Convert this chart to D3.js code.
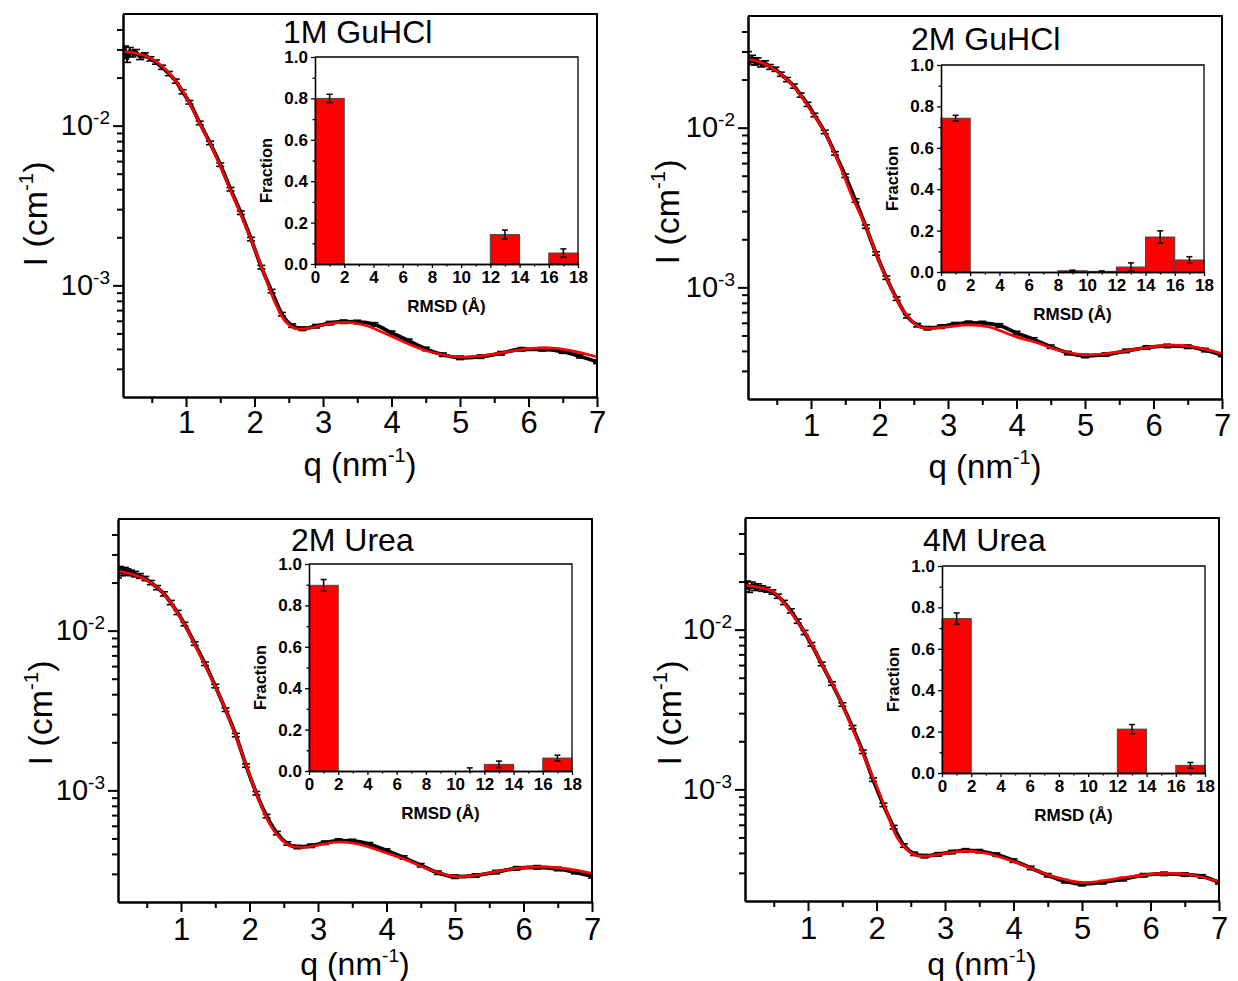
<!DOCTYPE html>
<html><head><meta charset="utf-8">
<script src="https://cdn.jsdelivr.net/npm/d3@7"></script>
<style>
html,body{margin:0;padding:0;background:#fff;}
svg{display:block;font-family:"Liberation Sans",Arial,Helvetica,sans-serif;}
</style></head><body>
<svg id="fig" width="1238" height="981"></svg>
<script>
// ---- scattering profiles: model fits (red) ----
const fitQ = [0.08,0.25,0.5,0.75,1.0,1.2,1.4,1.6,1.8,2.0,2.15,2.3,2.45,2.6,2.8,3.0,3.3,3.6,4.0,4.3,4.6,5.0,5.3,5.6,6.0,6.3,6.6,7.0];
const fit1MGuHCl = [0.0293,0.0285,0.0262,0.0214,0.0152,0.0103,0.0070,0.0044,0.00278,0.00170,0.00115,0.00078,0.000595,0.000535,0.00054,0.000565,0.000586,0.000565,0.00048,0.00042,0.00038,0.000355,0.000362,0.000378,0.000402,0.000406,0.000392,0.000357];
const fit2MGuHCl = [0.0268,0.0258,0.0226,0.0180,0.0128,0.0093,0.0061,0.0037,0.0024,0.00143,0.00103,0.00077,0.00063,0.00056,0.000555,0.000566,0.000582,0.000565,0.00049,0.00045,0.000405,0.000378,0.000385,0.0004,0.000425,0.000435,0.000422,0.000385];
const fit2MUrea = [0.0236,0.0228,0.0207,0.0170,0.0119,0.0082,0.0055,0.0036,0.00218,0.00125,0.00084,0.00061,0.0005,0.00045,0.00044,0.000455,0.000475,0.00046,0.000405,0.000365,0.000322,0.000289,0.000294,0.00031,0.000328,0.000332,0.000325,0.000302];
const fit4MUrea = [0.0190,0.0185,0.0172,0.0128,0.0089,0.0061,0.0042,0.0027,0.00168,0.00105,0.00072,0.0005,0.000418,0.000383,0.000385,0.000398,0.00041,0.000398,0.000353,0.000315,0.000283,0.000261,0.000267,0.00028,0.000295,0.000298,0.000292,0.000264];

// ---- measured intensities (black) with relative errors ----
const dataQ = [0.08,0.11,0.14,0.18,0.22,0.27,0.33,0.4,0.48,0.56,0.65,0.75,0.85,0.95,1.05,1.2,1.35,1.5,1.65,1.8,1.95,2.1,2.25,2.4,2.55,2.7,2.9,3.1,3.3,3.5,3.75,4.0,4.25,4.5,4.75,5.0,5.3,5.6,5.9,6.2,6.5,6.75,7.0];
const relErr = [0.05,0.05,0.05,0.045,0.045,0.04,0.04,0.035,0.03,0.03,0.03,0.03,0.03,0.03,0.025,0.025,0.025,0.025,0.025,0.025,0.025,0.025,0.025,0.025,0.025,0.025,0.025,0.025,0.025,0.025,0.025,0.025,0.025,0.025,0.025,0.025,0.025,0.025,0.025,0.025,0.025,0.025,0.025];
const data1MGuHCl = [0.0280,0.0300,0.0262,0.0295,0.0282,0.0288,0.0270,0.0276,0.0262,0.0250,0.0232,0.0212,0.0190,0.0163,0.0140,0.0104,0.0078,0.0057,0.0040,0.00285,0.00195,0.00130,0.00092,0.00066,0.00056,0.000535,0.000555,0.00058,0.000592,0.00059,0.00057,0.000505,0.00045,0.0004,0.000368,0.000352,0.000358,0.000376,0.000398,0.000398,0.000385,0.00036,0.000332];
const data2MGuHCl = [0.0285,0.0262,0.0270,0.0258,0.0262,0.0250,0.0252,0.0240,0.0232,0.0216,0.0200,0.0182,0.0160,0.0140,0.0120,0.0094,0.0069,0.0050,0.0035,0.0024,0.00163,0.00115,0.00085,0.00066,0.00058,0.000555,0.000568,0.000588,0.0006,0.000598,0.000578,0.000518,0.000472,0.000425,0.000388,0.000372,0.00038,0.0004,0.00042,0.00043,0.000425,0.000405,0.000378];
const data2MUrea = [0.0225,0.0240,0.0232,0.0238,0.0233,0.0230,0.0226,0.0220,0.0212,0.0200,0.0186,0.0170,0.0150,0.0130,0.0110,0.0083,0.0062,0.0045,0.0032,0.00222,0.00143,0.00096,0.00069,0.00054,0.000465,0.000442,0.00045,0.00047,0.000485,0.000482,0.00046,0.00042,0.00038,0.00034,0.000305,0.000288,0.000293,0.000308,0.000325,0.00033,0.000322,0.000308,0.00029];
const data4MUrea = [0.0182,0.0192,0.0180,0.0190,0.0184,0.0186,0.0181,0.0178,0.0172,0.0162,0.0148,0.0131,0.0113,0.0096,0.0081,0.0061,0.0046,0.0034,0.00245,0.00172,0.00115,0.00080,0.00058,0.000445,0.000395,0.000382,0.000392,0.000405,0.000415,0.00041,0.00039,0.000358,0.000322,0.00029,0.000266,0.000255,0.000262,0.000274,0.00029,0.000296,0.000293,0.000285,0.000262];

// ---- RMSD population histograms (insets) ----
const rmsdBins = [0,2,4,6,8,10,12,14,16];
const frac1MGuHCl = [0.80,0,0,0,0,0,0.142,0,0.053];
const err1MGuHCl  = [0.02,0,0,0,0,0,0.022,0,0.02];
const frac2MGuHCl = [0.743,0,0,0,0.006,0.003,0.024,0.169,0.058];
const err2MGuHCl  = [0.014,0,0,0,0.003,0.002,0.02,0.03,0.016];
const frac2MUrea  = [0.897,0,0,0,0,0,0.032,0,0.0625];
const err2MUrea   = [0.028,0,0,0,0,0.015,0.016,0,0.014];
const frac4MUrea  = [0.746,0,0,0,0,0,0.212,0,0.037];
const err4MUrea   = [0.027,0,0,0,0,0,0.022,0,0.014];

const panelTitles = ["1M GuHCl","2M GuHCl","2M Urea","4M Urea"];
const qTicks = [1,2,3,4,5,6,7];
const qMinorTicks = [0.5,1.5,2.5,3.5,4.5,5.5,6.5];
const iTicks = [1e-3,1e-2];
const iMinorTicks = [3e-4,4e-4,5e-4,6e-4,7e-4,8e-4,9e-4,2e-3,3e-3,4e-3,5e-3,6e-3,7e-3,8e-3,9e-3,2e-2,3e-2,4e-2];
const fracTicks = [0,0.2,0.4,0.6,0.8,1.0];
const fracMinorTicks = [0.1,0.3,0.5,0.7,0.9];
const rmsdTicks = [0,2,4,6,8,10,12,14,16,18];
const rmsdMinorTicks = [1,3,5,7,9,11,13,15,17];

const panels = [
  {title:panelTitles[0], fit:fit1MGuHCl, data:data1MGuHCl, frac:frac1MGuHCl, err:err1MGuHCl},
  {title:panelTitles[1], fit:fit2MGuHCl, data:data2MGuHCl, frac:frac2MGuHCl, err:err2MGuHCl},
  {title:panelTitles[2], fit:fit2MUrea,  data:data2MUrea,  frac:frac2MUrea,  err:err2MUrea},
  {title:panelTitles[3], fit:fit4MUrea,  data:data4MUrea,  frac:frac4MUrea,  err:err4MUrea}
];

// page layout of each panel: frame, inset and title anchors
const layout = [
  {fx:123, fy:14,  ix:315, iy:57,  tx:283, ty:43,  xPad:4, xtY:476, xtSize:33, ytX:47,  ytY:214},
  {fx:748, fy:16,  ix:941, iy:65,  tx:911, ty:50,  xPad:5, xtY:478, xtSize:33, ytX:679, ytY:212},
  {fx:118, fy:519, ix:309, iy:564, tx:291, ty:551, xPad:6, xtY:975, xtSize:32, ytX:52,  ytY:713},
  {fx:745, fy:518, ix:942, iy:566, tx:923, ty:551, xPad:6, xtY:975, xtSize:32, ytX:681, ytY:713}
];
const FW = 474, FH = 383, IW = 263, IH = 207;

const svg = d3.select("#fig");

function styleAxis(g, fontSize, weight, strokeW) {
  g.attr("font-family", null).attr("font-size", null);
  g.selectAll(".domain").attr("stroke", "#000").attr("stroke-width", strokeW);
  g.selectAll(".tick line").attr("stroke", "#000").attr("stroke-width", strokeW);
  g.selectAll(".tick text").attr("fill", "#000").style("font-size", fontSize + "px").style("font-weight", weight);
}

function axisTitle(parent, x, y, rotate, main, sup, tail, size) {
  const t = parent.append("text")
    .attr("transform", `translate(${x},${y})` + (rotate ? " rotate(-90)" : ""))
    .attr("text-anchor", "middle").style("font-size", size + "px").attr("fill", "#000");
  t.append("tspan").text(main);
  t.append("tspan").attr("dy", -0.42 * size).style("font-size", (0.6 * size) + "px").text(sup);
  t.append("tspan").attr("dy", 0.42 * size).text(tail);
}

panels.forEach((p, k) => {
  const L = layout[k];
  const g = svg.append("g").attr("transform", `translate(${L.fx},${L.fy})`);
  const x = d3.scaleLinear().domain([0.08, 7]).range([0, FW]);
  const y = d3.scaleLog().domain([2e-4, 0.05]).range([FH, 0]);

  const clipId = "clip" + k;
  g.append("clipPath").attr("id", clipId).append("rect").attr("width", FW).attr("height", FH);
  const plot = g.append("g").attr("clip-path", `url(#${clipId})`);

  // measured curve
  const pts = dataQ.map((q, i) => ({q, I: p.data[i], e: relErr[i]}));
  plot.append("path").datum(pts)
    .attr("fill", "none").attr("stroke", "#000").attr("stroke-width", 3.8).attr("stroke-linejoin", "round")
    .attr("d", d3.line().x(d => x(d.q)).y(d => y(d.I)).curve(d3.curveMonotoneX));
  const eb = plot.append("g").attr("stroke", "#000").attr("stroke-width", 1.6);
  pts.forEach(d => {
    const cx = x(d.q), y0 = y(d.I * (1 - d.e)), y1 = y(d.I * (1 + d.e));
    eb.append("line").attr("x1", cx).attr("x2", cx).attr("y1", y0).attr("y2", y1);
    eb.append("line").attr("x1", cx - 4).attr("x2", cx + 4).attr("y1", y0).attr("y2", y0);
    eb.append("line").attr("x1", cx - 4).attr("x2", cx + 4).attr("y1", y1).attr("y2", y1);
  });

  // model fit
  plot.append("path").datum(fitQ.map((q, i) => ({q, I: p.fit[i]})))
    .attr("fill", "none").attr("stroke", "#ff0000").attr("stroke-width", 2.7)
    .attr("d", d3.line().x(d => x(d.q)).y(d => y(d.I)).curve(d3.curveCatmullRom.alpha(0.5)));

  // frame (top and right)
  g.append("path").attr("d", `M0,0H${FW}V${FH}`).attr("fill", "none").attr("stroke", "#000").attr("stroke-width", 2);

  // x axis
  const gx = g.append("g").attr("transform", `translate(0,${FH})`);
  gx.call(d3.axisBottom(x).tickValues(qMinorTicks).tickSize(6).tickSizeOuter(0).tickFormat(""));
  styleAxis(gx, 31, "normal", 2);
  const gx2 = g.append("g").attr("transform", `translate(0,${FH})`);
  gx2.call(d3.axisBottom(x).tickValues(qTicks).tickSize(10).tickSizeOuter(0).tickPadding(L.xPad).tickFormat(d3.format("d")));
  styleAxis(gx2, 31, "normal", 2);

  // y axis
  const gy = g.append("g");
  gy.call(d3.axisLeft(y).tickValues(iMinorTicks).tickSize(6).tickSizeOuter(0).tickFormat(""));
  styleAxis(gy, 28, "normal", 2);
  const gy2 = g.append("g");
  gy2.call(d3.axisLeft(y).tickValues(iTicks).tickSize(10).tickSizeOuter(0).tickPadding(3));
  styleAxis(gy2, 29, "normal", 2);
  gy2.selectAll(".tick text").each(function(d) {
    const t = d3.select(this).text(null);
    t.append("tspan").text("10");
    t.append("tspan").attr("dy", -11).style("font-size", "19px").text(String(Math.round(Math.log10(d))));
  });

  // axis titles and panel title
  axisTitle(svg, L.fx + FW / 2, L.xtY, false, "q (nm", "-1", ")", L.xtSize);
  axisTitle(svg, L.ytX, L.ytY, true, "I (cm", "-1", ")", 34);
  svg.append("text").attr("x", L.tx).attr("y", L.ty).style("font-size", "32px").attr("fill", "#000").text(p.title);

  // ---- inset histogram ----
  const ig = svg.append("g").attr("transform", `translate(${L.ix},${L.iy})`);
  const bx = d3.scaleLinear().domain([0, 18]).range([0, IW]);
  const by = d3.scaleLinear().domain([0, 1]).range([IH, 0]);
  ig.append("rect").attr("width", IW).attr("height", IH).attr("fill", "#fff");

  const bins = rmsdBins.map((b, i) => ({b, v: p.frac[i], e: p.err[i]}));
  ig.selectAll("rect.bar").data(bins.filter(d => d.v > 0)).enter().append("rect").attr("class", "bar")
    .attr("x", d => bx(d.b)).attr("width", d => bx(d.b + 2) - bx(d.b))
    .attr("y", d => by(d.v)).attr("height", d => by(0) - by(d.v))
    .attr("fill", "#ff0000").attr("stroke", "#444").attr("stroke-width", 1);
  const ie = ig.append("g").attr("stroke", "#000").attr("stroke-width", 1.5);
  bins.filter(d => d.e > 0).forEach(d => {
    const cx = bx(d.b + 1), y0 = by(Math.max(0, d.v - d.e)), y1 = by(d.v + d.e);
    ie.append("line").attr("x1", cx).attr("x2", cx).attr("y1", y0).attr("y2", y1);
    ie.append("line").attr("x1", cx - 3).attr("x2", cx + 3).attr("y1", y1).attr("y2", y1);
    if (d.v - d.e > 0) ie.append("line").attr("x1", cx - 3).attr("x2", cx + 3).attr("y1", y0).attr("y2", y0);
  });
  ig.append("path").attr("d", `M0,0H${IW}V${IH}`).attr("fill", "none").attr("stroke", "#000").attr("stroke-width", 1.3);

  const ibx = ig.append("g").attr("transform", `translate(0,${IH})`);
  ibx.call(d3.axisBottom(bx).tickValues(rmsdMinorTicks).tickSize(2.5).tickSizeOuter(0).tickFormat(""));
  styleAxis(ibx, 17, "bold", 1.3);
  const ibx2 = ig.append("g").attr("transform", `translate(0,${IH})`);
  ibx2.call(d3.axisBottom(bx).tickValues(rmsdTicks).tickSize(4).tickSizeOuter(0).tickPadding(3).tickFormat(d3.format("d")));
  styleAxis(ibx2, 17, "bold", 1.3);
  const iby = ig.append("g");
  iby.call(d3.axisLeft(by).tickValues(fracMinorTicks).tickSize(2.5).tickSizeOuter(0).tickFormat(""));
  styleAxis(iby, 17, "bold", 1.3);
  const iby2 = ig.append("g");
  iby2.call(d3.axisLeft(by).tickValues(fracTicks).tickSize(4).tickSizeOuter(0).tickPadding(3).tickFormat(d3.format(".1f")));
  styleAxis(iby2, 17, "bold", 1.3);

  ig.append("text").attr("x", IW / 2).attr("y", IH + 48).attr("text-anchor", "middle")
    .style("font-size", "17px").style("font-weight", "bold").attr("fill", "#000").text("RMSD (Å)");
  ig.append("text").attr("transform", `translate(-43,${IH / 2 + 10}) rotate(-90)`).attr("text-anchor", "middle")
    .style("font-size", "16.5px").style("font-weight", "bold").attr("fill", "#000").text("Fraction");
});
</script>
</body></html>
